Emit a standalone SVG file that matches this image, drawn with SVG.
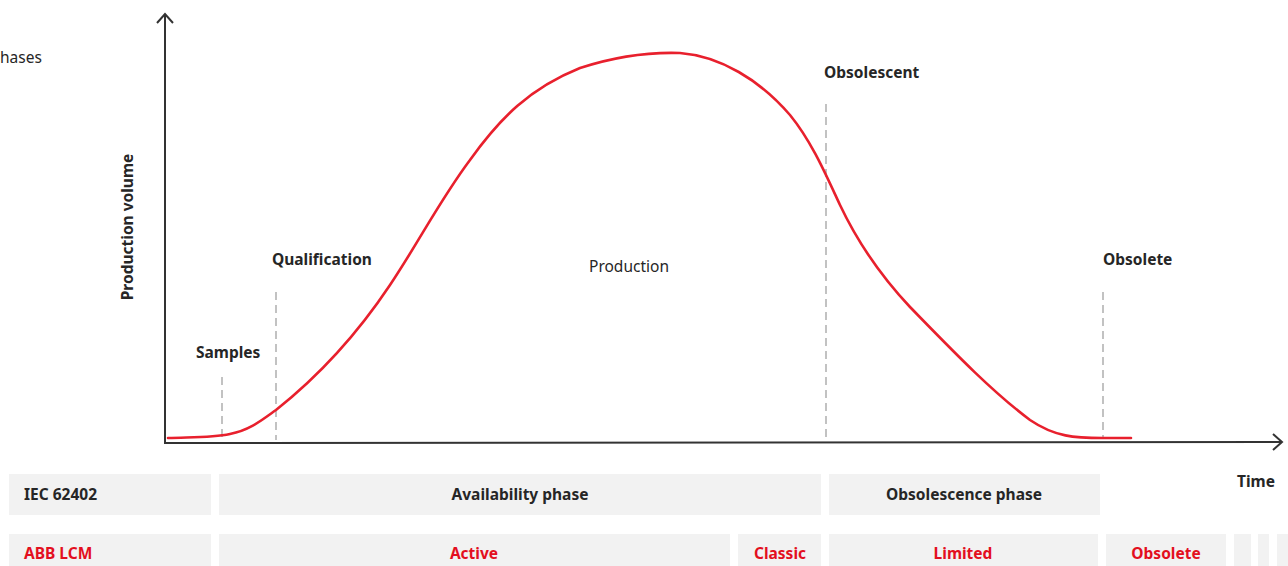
<svg xmlns="http://www.w3.org/2000/svg" width="1288" height="566" viewBox="0 0 1288 566">
<style>
.t{font-family:"Noto Sans","Liberation Sans",sans-serif;font-size:15.5px;fill:#262626}
.b{font-weight:bold}
.r{fill:#e30f20}
.m{text-anchor:middle}
.box{fill:#f2f2f2}
.ax{stroke:#333;stroke-width:2;fill:none}
.dash{stroke:#9a9a9a;stroke-width:1.2;stroke-dasharray:8,5;fill:none}
.curve{stroke:#e8202d;stroke-width:2.6;fill:none;stroke-linecap:round}
</style>
<rect width="1288" height="566" fill="#fff"/>
<text class="t" x="0" y="63">hases</text>
<g id="axes">
<path class="ax" d="M165,14 L165,443 L1281,442"/>
<path class="ax" d="M157,23 L165,14 L173,23"/>
<path class="ax" d="M1273,434 L1282,442 L1273,450"/>
</g>
<text class="t b" transform="translate(133,227) rotate(-90)" text-anchor="middle">Production volume</text>
<text class="t b" x="1237" y="487">Time</text>
<g id="markers">
<line class="dash" x1="222" y1="377" x2="222" y2="440"/>
<line class="dash" x1="276" y1="292" x2="276" y2="440"/>
<line class="dash" x1="826" y1="104" x2="826" y2="440"/>
<line class="dash" x1="1103" y1="292" x2="1103" y2="438"/>
</g>
<g id="curve">
<path class="curve" d="M168,438 C190,437 212,438 230,434 C250,430 262,420 276,410 C310,383 350,345 390,285 C420,240 440,200 470,160 C500,118 530,88 580,68 C620,55 650,52 680,53 C720,56 760,80 790,115 C812,142 826,175 840,205 C858,243 880,275 910,307 C950,348 990,390 1030,420 C1055,437 1075,438 1103,438 L1131,438"/>
</g>
<g id="labels">
<text class="t b" x="196" y="358">Samples</text>
<text class="t b" x="272" y="265">Qualification</text>
<text class="t m" x="629" y="272">Production</text>
<text class="t b" x="824" y="78">Obsolescent</text>
<text class="t b" x="1103" y="265">Obsolete</text>
</g>
<g id="iec">
<rect class="box" x="9" y="474" width="202" height="41"/>
<text class="t b" x="24" y="500">IEC 62402</text>
<rect class="box" x="219" y="474" width="602" height="41"/>
<text class="t b m" x="520" y="500">Availability phase</text>
<rect class="box" x="829" y="474" width="271" height="41"/>
<text class="t b m" x="964" y="500">Obsolescence phase</text>
</g>
<g id="abb">
<rect class="box" x="9" y="534" width="202" height="40"/>
<text class="t b r" x="24" y="559">ABB LCM</text>
<rect class="box" x="219" y="534" width="511" height="40"/>
<text class="t b r m" x="474" y="559">Active</text>
<rect class="box" x="738" y="534" width="83" height="40"/>
<text class="t b r m" x="780" y="559">Classic</text>
<rect class="box" x="829" y="534" width="269" height="40"/>
<text class="t b r m" x="963" y="559">Limited</text>
<rect class="box" x="1106" y="534" width="120" height="40"/>
<text class="t b r m" x="1166" y="559">Obsolete</text>
<rect class="box" x="1234" y="534" width="17" height="40"/>
<rect class="box" x="1258" y="534" width="11" height="40"/>
<rect class="box" x="1277" y="534" width="11" height="40"/>
</g>
</svg>
